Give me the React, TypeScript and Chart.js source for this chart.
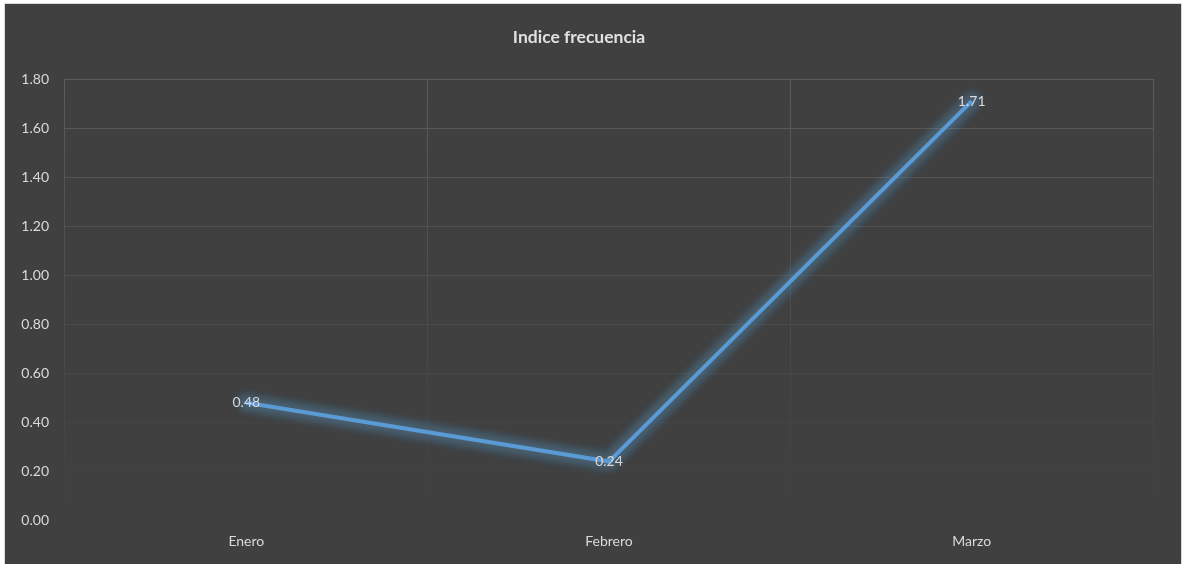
import React, { useEffect, useRef } from "react";
import { Chart, registerables } from "chart.js";

Chart.register(...registerables);

const TITLE = "Indice frecuencia";
const CATEGORIES = ["Enero", "Febrero", "Marzo"];
const VALUES = [0.48, 0.24, 1.71];
const Y_MIN = 0;
const Y_MAX = 1.8;
const Y_STEP = 0.2;

const FONT = "Lato, 'Open Sans', sans-serif";
const TEXT = "#d9d9d9";
const LINE = "#5b9bd5";

function gridGradient(chart: any) {
  const a = chart.chartArea;
  if (!a) return "#595959";
  const g = chart.ctx.createLinearGradient(0, a.top, 0, a.bottom);
  g.addColorStop(0, "#5b5b5b");
  g.addColorStop(0.7, "#474747");
  g.addColorStop(0.95, "#404040");
  return g;
}

const GLOW_WIDTHS = [26, 23, 20, 17, 14, 11, 8];

const glowPlugin = {
  id: "glow",
  beforeDatasetDraw(chart: any) {
    const ctx = chart.ctx;
    const pts = chart.getDatasetMeta(0).data;
    GLOW_WIDTHS.forEach((w) => {
      ctx.save();
      ctx.beginPath();
      pts.forEach((p: any, i: number) => (i ? ctx.lineTo(p.x, p.y) : ctx.moveTo(p.x, p.y)));
      ctx.lineWidth = w;
      ctx.strokeStyle = "rgba(91,155,213,0.055)";
      ctx.lineJoin = "round";
      ctx.lineCap = "round";
      ctx.filter = "blur(2px)";
      ctx.stroke();
      ctx.restore();
    });
  },
};

const labelPlugin = {
  id: "pointLabels",
  afterDatasetsDraw(chart: any) {
    const ctx = chart.ctx;
    const meta = chart.getDatasetMeta(0);
    const data = chart.data.datasets[0].data as number[];
    ctx.save();
    ctx.fillStyle = TEXT;
    ctx.font = `14px ${FONT}`;
    ctx.textAlign = "center";
    ctx.textBaseline = "middle";
    meta.data.forEach((el: any, i: number) => {
      ctx.fillText(Number(data[i]).toFixed(2), el.x, el.y);
    });
    ctx.restore();
  },
};

export default function App() {
  const ref = useRef<HTMLCanvasElement>(null);

  useEffect(() => {
    document.body.style.margin = "0";
    const canvas = ref.current;
    if (!canvas) return;
    const chart = new Chart(canvas, {
      type: "line",
      data: {
        labels: CATEGORIES,
        datasets: [
          {
            label: TITLE,
            data: VALUES,
            borderColor: LINE,
            borderWidth: 4,
            pointRadius: 0,
            pointHoverRadius: 0,
            tension: 0,
            fill: false,
          },
        ],
      },
      options: {
        animation: false,
        responsive: false,
        devicePixelRatio: 1,
        layout: { padding: { left: 0, right: 28, top: 0, bottom: 1.6 } },
        plugins: {
          legend: { display: false },
          tooltip: { enabled: false },
          title: {
            display: true,
            text: TITLE,
            color: "#e0e0e0",
            font: { family: FONT, size: 17.5, weight: "bold", lineHeight: 1.2 },
            padding: { top: 22.5, bottom: 31.5 },
          },
        },
        scales: {
          x: {
            offset: true,
            grid: {
              offset: true,
              drawTicks: false,
              color: (c: any) => gridGradient(c.chart),
            },
            border: { display: false },
            ticks: {
              color: TEXT,
              padding: 12.6,
              font: { family: FONT, size: 14, lineHeight: 1.2 },
            },
          },
          y: {
            min: Y_MIN,
            max: Y_MAX,
            grid: {
              drawTicks: false,
              color: (c: any) => gridGradient(c.chart),
            },
            border: { display: false },
            afterFit: (scale: any) => {
              scale.width = 60;
            },
            ticks: {
              stepSize: Y_STEP,
              color: TEXT,
              padding: 16,
              font: { family: FONT, size: 14, lineHeight: 1.2 },
              callback: (v: any) => Number(v).toFixed(2),
            },
          },
        },
      },
      plugins: [glowPlugin, labelPlugin],
    });
    return () => chart.destroy();
  }, []);

  return (
    <div
      style={{
        position: "fixed",
        left: 4,
        top: 3,
        width: 1176,
        height: 562,
        border: "1px solid #d9d9d9",
        background: "#404040",
      }}
    >
      <canvas ref={ref} width={1176} height={560} style={{ display: "block", width: 1176, height: 560 }} />
    </div>
  );
}
